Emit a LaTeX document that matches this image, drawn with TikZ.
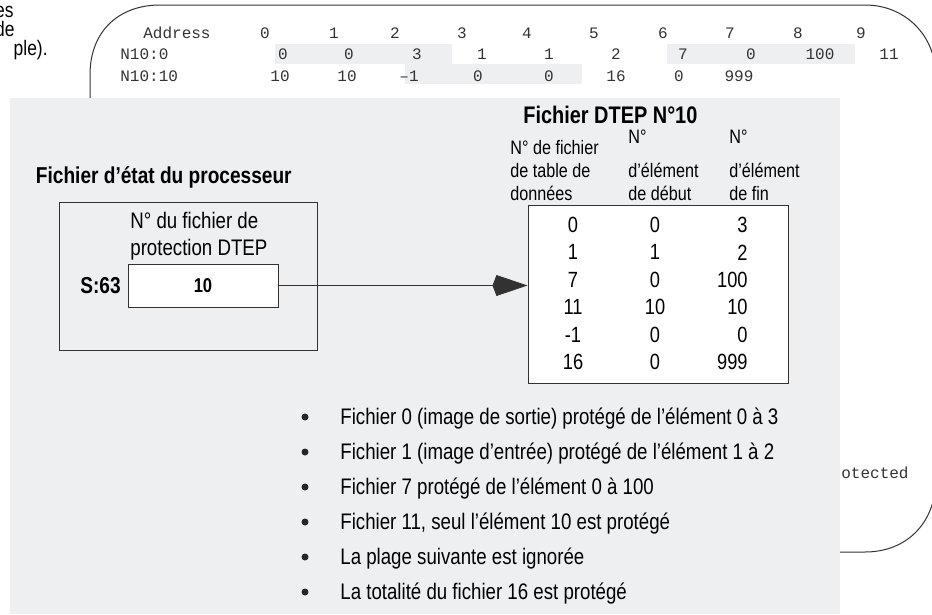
\documentclass[tikz,border=0pt]{standalone}
\usepackage{fontspec}
\setmainfont[FakeStretch=0.83]{Liberation Sans}
\setmonofont{Liberation Mono}
\usetikzlibrary{arrows.meta}
\definecolor{panelgray}{RGB}{238,239,241}
\definecolor{linegray}{RGB}{50,50,50}
\tikzset{every picture/.style={line width=0.75pt}}
\tikzset{
  code/.style={font=\ttfamily\fontsize{16}{18}\selectfont, text=black!80, inner sep=0pt},
  body/.style={font=\fontsize{22.5}{26}\selectfont, inner sep=0pt},
  head/.style={font=\fontsize{19.5}{23}\selectfont, inner sep=0pt, anchor=base west},
  titre/.style={font=\bfseries\fontsize{23}{26}\selectfont, inner sep=0pt},
  cell/.style={font=\fontsize{22}{24}\selectfont, inner sep=0pt},
}

\begin{document}
\begin{tikzpicture}[x=1pt,y=-1pt]
\useasboundingbox (0,0) rectangle (932,614);

% texte coupe a gauche
\node[body, font=\fontsize{21}{22}\selectfont, anchor=base east] (cut1) at (14,17) {es};
\node[body, font=\fontsize{21}{22}\selectfont, anchor=base east] (cut2) at (15,36) {de};
\node[body, font=\fontsize{21}{22}\selectfont, anchor=base east] (cut3) at (48,55) {ple).};

% cadre arrondi du fond
\draw[linegray, line width=1pt] (90,100) -- (90,75) .. controls (90,30) and (120,5) .. (160,5)
  -- (865,5) .. controls (905,5) and (935,35) .. (936,75) -- (936,480)
  .. controls (935,525) and (905,552) .. (865,552) -- (835,552);

% table des adresses
\fill[panelgray] (275,44) rectangle (452,64);
\fill[panelgray] (667,44) rectangle (855,64);
\fill[panelgray] (405,64) rectangle (582,84);
\node[code, anchor=west] (addr) at (143,33) {Address};
\node[code, anchor=west] (row0) at (120,54) {N10:0};
\node[code, anchor=west] (row10) at (120,76) {N10:10};
\foreach \c [count=\i from 0] in {265,334,395,462,527,594,663,730,798,861}
  \node[code] (h\i) at (\c,33) {\i};
\foreach \c/\v [count=\i] in {283/0,349/0,417/3,482/1,549/1,616/2,683/7,751/0,820/100,889/11}
  \node[code] (a\i) at (\c,54) {\v};
\foreach \c/\v [count=\i] in {280/10,347/10,409/–1,478/0,549/0,616/16,679/0,739/999}
  \node[code] (b\i) at (\c,76) {\v};
\node[code, anchor=west] (rest) at (841,473) {otected};

% panneau gris
\fill[panelgray] (10,98) rectangle (840,614);

% fichier d'etat
\node[titre, anchor=base east] (etat) at (292,183) {Fichier d’état du processeur};
\draw[linegray, line width=1pt] (59,202) rectangle (317,350);
\node[body, anchor=base west] (numA) at (130,228) {N° du fichier de};
\node[body, anchor=base west] (numB) at (130,255) {protection DTEP};
\node[draw=linegray, line width=1pt, fill=white, minimum width=150pt, minimum height=43pt,
  inner sep=0pt, font=\bfseries\fontsize{20}{22}\selectfont] (val) at (203,285.5) {10};
\node[titre, anchor=east] (s63) at (121,285.5) {S:63};

% fichier DTEP
\node[titre, font=\bfseries\fontsize{24}{26}\selectfont, anchor=base west] (dtept) at (523,123) {Fichier DTEP N°10};
\node[head] (c1a) at (510,154) {N° de fichier};
\node[head] (c1b) at (510,177) {de table de};
\node[head] (c1c) at (510,200) {données};
\node[head] (c2a) at (628,143) {N°};
\node[head] (c2b) at (628,177) {d’élément};
\node[head] (c2c) at (628,200) {de début};
\node[head] (c3a) at (729,143) {N°};
\node[head] (c3b) at (729,177) {d’élément};
\node[head] (c3c) at (729,200) {de fin};
\node[draw=linegray, line width=1pt, fill=white, minimum width=260pt, minimum height=178pt,
  inner sep=0pt] (dtep) at (658,294) {};
\foreach \a/\b/\c [count=\r from 0] in {0/0/3,1/1/2,7/0/100,11/10/10,-1/0/0,16/0/999} {
  \node[cell] (d\r a) at (573,{225+27.4*\r}) {\a};
  \node[cell] (d\r b) at (655,{225+27.4*\r}) {\b};
  \node[cell, anchor=east] (d\r c) at (748,{225+27.4*\r}) {\c};
}

% lien
\draw[linegray, line width=1pt, -{Kite[length=35pt, width=21pt, inset=4pt]}]
  (val.east) -- (val.east -| dtep.west);

% liste
\foreach \t [count=\i from 0] in {Fichier 0 (image de sortie) protégé de l’élément 0 à 3,
    Fichier 1 (image d’entrée) protégé de l’élément 1 à 2,
    Fichier 7 protégé de l’élément 0 à 100,
    {Fichier 11, seul l’élément 10 est protégé},
    La plage suivante est ignorée,
    La totalité du fichier 16 est protégé} {
  \fill[black!85] (305,{417+35*\i}) circle (3.5pt);
  \node[body, anchor=base west] (p\i) at (340,{424+35*\i}) {\t};
}
\end{tikzpicture}
\end{document}
